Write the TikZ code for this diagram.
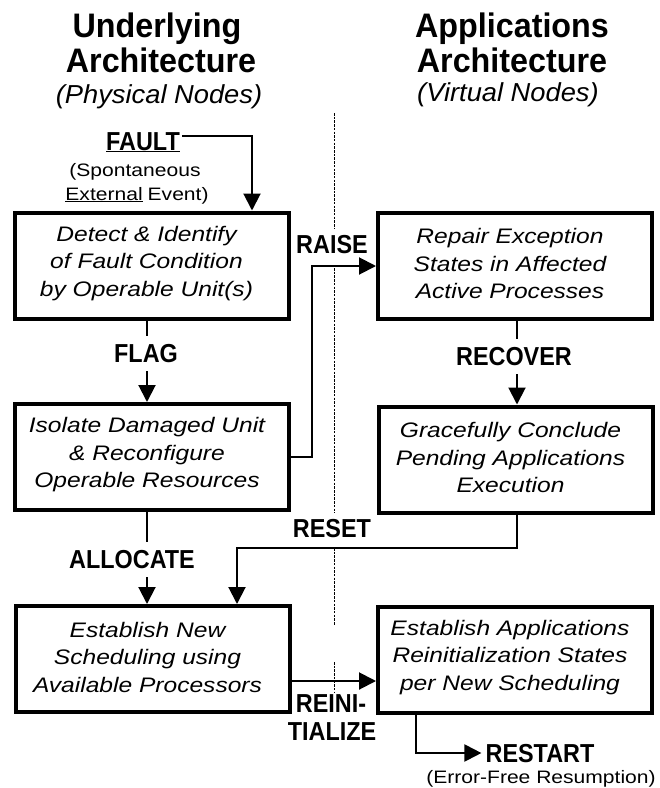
\documentclass[tikz,border=0pt]{standalone}
\usepackage{fontspec}
\setmainfont{Liberation Sans}
\newfontfamily\titlefont[FakeStretch=0.95]{Liberation Sans}
\newfontfamily\subfont[FakeStretch=1.05]{Liberation Sans}
\newfontfamily\tagfont[FakeStretch=0.9]{Liberation Sans}
\newfontfamily\boxfont[FakeStretch=1.17]{Liberation Sans}
\newfontfamily\notefont[FakeStretch=1.17]{Liberation Sans}
\usetikzlibrary{arrows.meta}

\begin{document}
\begin{tikzpicture}[x=1pt,y=-1pt,
  heading/.style={font=\titlefont\bfseries\fontsize{34}{36}\selectfont, anchor=base, inner sep=0pt},
  subheading/.style={font=\subfont\itshape\fontsize{26}{28}\selectfont, anchor=base, inner sep=0pt},
  stage/.style={draw, line width=4pt, minimum width=274pt, minimum height=106pt, inner sep=0pt},
  stagetext/.style={font=\boxfont\itshape\fontsize{21}{27.5}\selectfont, align=center, inner sep=0pt},
  tag/.style={font=\tagfont\bfseries\fontsize{26}{28}\selectfont, anchor=base, inner sep=0pt},
  passtag/.style={tag, fill=white, text height=19pt, text depth=2pt, inner ysep=7pt, inner xsep=2pt},
  note/.style={font=\notefont\fontsize{18}{20}\selectfont, anchor=base, inner sep=0pt},
  flow/.style={line width=2pt},
  flowarrow/.style={flow, -{Triangle[length=17pt,width=17pt]}},
  divider/.style={line width=0.7pt, dash pattern=on 2.5pt off 1.2pt}
]
\useasboundingbox (0,0) rectangle (660,788);

% column divider
\coordinate (dv0) at (334,113);
\coordinate (dv1) at (334,228);
\coordinate (dv2) at (334,268);
\coordinate (dv3) at (334,513);
\coordinate (dv4) at (334,548);
\coordinate (dv5) at (334,625);
\coordinate (dv6) at (334,662);
\coordinate (dv7) at (334,693);
\draw[divider] (dv0) -- (dv1);
\draw[divider] (dv2) -- (dv3);
\draw[divider] (dv4) -- (dv5);
\draw[divider] (dv6) -- (dv7);

% column headings
\node[heading] (h1) at (157,37) {Underlying};
\node[heading] (h2) at (161,72) {Architecture};
\node[subheading] (h3) at (159,103) {(Physical Nodes)};
\node[heading] (h4) at (512,37) {Applications};
\node[heading] (h5) at (512,72) {Architecture};
\node[subheading] (h6) at (508,101) {(Virtual Nodes)};

% stages
\node[stage] (b1) at (151.5,265.5) {};
\node[stage] (r1) at (515,265.5) {};
\node[stage] (b2) at (152,457) {};
\node[stage] (r2) at (515.5,459.5) {};
\node[stage] (b3) at (152.5,659) {};
\node[stage] (r3) at (515,659.5) {};

\node[stagetext] (b1t) at ([xshift=-5pt,yshift=2pt]b1.center) {Detect \& Identify\\of Fault Condition\\by Operable Unit(s)};
\node[stagetext] (r1t) at ([xshift=-5pt,yshift=2pt]r1.center) {Repair Exception\\States in Affected\\Active Processes};
\node[stagetext] (b2t) at ([xshift=-5pt,yshift=2pt]b2.center) {Isolate Damaged Unit\\\& Reconfigure\\Operable Resources};
\node[stagetext] (r2t) at ([xshift=-5pt,yshift=2pt]r2.center) {Gracefully Conclude\\Pending Applications\\Execution};
\node[stagetext] (b3t) at ([xshift=-5pt,yshift=2pt]b3.center) {Establish New\\Scheduling using\\Available Processors};
\node[stagetext] (r3t) at ([xshift=-5pt,yshift=2pt]r3.center) {Establish Applications\\Reinitialization States\\per New Scheduling};

% fault source
\node[tag] (fault) at (143,150) {\underline{FAULT}};
\node[note] (spont) at (135,176) {(Spontaneous};
\node[note] (ext) at (137,200) {\underline{External}\hspace{5pt}Event)};

% straight vertical flows, labelled on top
\coordinate (lc) at (147,0);
\coordinate (rc) at (517,0);
\draw[flowarrow] (b1.south -| lc) -- (b2.north -| lc);
\draw[flowarrow] (b2.south -| lc) -- (b3.north -| lc);
\draw[flowarrow] (r1.south -| rc) -- (r2.north -| rc);
\node[passtag] (flag) at (146,362) {FLAG};
\node[passtag] (allocate) at (132,568) {ALLOCATE};
\node[passtag] (recover) at (514,365) {RECOVER};

% labels between the columns
\node[tag] (raise) at (332,253) {RAISE};
\node[tag] (reset) at (332,537) {RESET};
\node[tag] (reini) at (331,712) {REINI-};
\node[tag] (tialize) at (332,740) {TIALIZE};
\node[tag] (restart) at (540,762) {RESTART};
\node[note] (errfree) at (541,783) {(Error-Free Resumption)};

% routed flows
\coordinate (fk) at (252,136);
\draw[flowarrow] ([xshift=2pt]fault.east |- fk) -- (fk) -- (b1.north -| fk);

\coordinate (rz) at (312,266);
\draw[flowarrow] (b2.east) -- (b2.east -| rz) -- (rz) -- (r1.west |- rz);

\coordinate (rs) at (237,548);
\draw[flowarrow] (r2.south -| rc) -- (rc |- rs) -- (rs) -- (b3.north -| rs);

\coordinate (ri) at (0,681);
\draw[flowarrow] (b3.east |- ri) -- (r3.west |- ri);

\coordinate (rt) at (416,753);
\draw[flowarrow] (r3.south -| rt) -- (rt) -- ([xshift=-4pt]restart.west |- rt);

\end{tikzpicture}
\end{document}
